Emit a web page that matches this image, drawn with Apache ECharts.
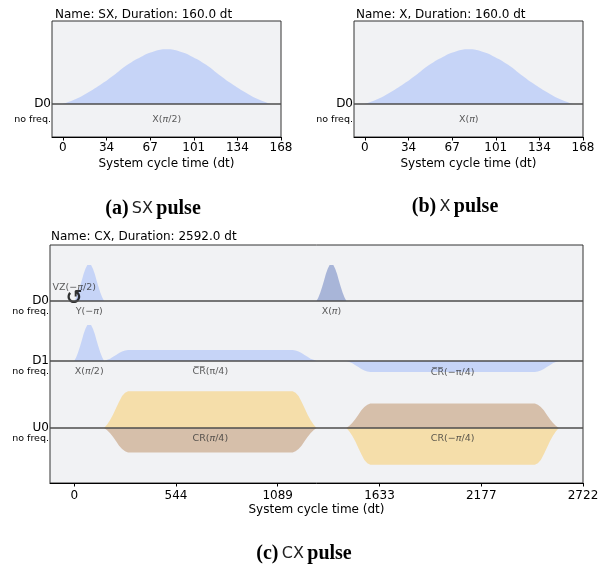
<!DOCTYPE html>
<html>
<head>
<meta charset="utf-8">
<script src="https://cdn.jsdelivr.net/npm/echarts@6.0.0/dist/echarts.min.js"></script>
<style>
html,body{margin:0;padding:0;background:#fff;}
#chart{width:604px;height:565px;}
</style>
</head>
<body>
<div id="chart"></div>
<script>
// ---------- Panel (a): SX pulse ----------
const sxTime = [0,10,20,30,40,50,60,70,80,90,100,110,120,130,140,150,160];
const sxReal = [0,0.09,0.22,0.37,0.54,0.72,0.86,0.96,1,0.96,0.86,0.72,0.54,0.37,0.22,0.09,0];
// ---------- Panel (b): X pulse ----------
const xTime = [0,10,20,30,40,50,60,70,80,90,100,110,120,130,140,150,160];
const xReal = [0,0.09,0.22,0.37,0.54,0.72,0.86,0.96,1,0.96,0.86,0.72,0.54,0.37,0.22,0.09,0];
// tick values / labels for (a) and (b)
const smallTickVals = [0,33.6,67.2,100.8,134.4,168];
const smallTickLabels = ['0','34','67','101','134','168'];

// ---------- Panel (c): CX pulse ----------
const cxD0RealTime = [0,10,20,30,40,50,60,70,80,90,100,110,120,130,140,150,160];
const cxD0Real = [0,0.09,0.22,0.37,0.54,0.72,0.86,0.96,1,0.96,0.86,0.72,0.54,0.37,0.22,0.09,0];
const cxD0ImagTime = [1296,1306,1316,1326,1336,1346,1356,1366,1376,1386,1396,1406,1416,1426,1436,1446,1456];
const cxD0Imag = [0,0.09,0.22,0.37,0.54,0.72,0.86,0.96,1,0.96,0.86,0.72,0.54,0.37,0.22,0.09,0];

const cxD1Time = [0,10,20,30,40,50,60,70,80,90,100,110,120,130,140,150,160,
  176,192,208,224,240,256,272,288,
  1168,1184,1200,1216,1232,1248,1264,1280,1296,
  1456,1472,1488,1504,1520,1536,1552,1568,1584,
  2464,2480,2496,2512,2528,2544,2560,2576,2592];
const cxD1Real = [0,0.09,0.22,0.37,0.54,0.72,0.86,0.96,1,0.96,0.86,0.72,0.54,0.37,0.22,0.09,0,
  0.03,0.06,0.11,0.16,0.21,0.25,0.28,0.29,
  0.29,0.28,0.25,0.21,0.16,0.11,0.06,0.03,0,
  0,-0.03,-0.06,-0.11,-0.16,-0.21,-0.25,-0.28,-0.29,
  -0.29,-0.28,-0.25,-0.21,-0.16,-0.11,-0.06,-0.03,0];

const cxU0Time = [160,176,192,208,224,240,256,272,288,
  1168,1184,1200,1216,1232,1248,1264,1280,1296,
  1456,1472,1488,1504,1520,1536,1552,1568,1584,
  2464,2480,2496,2512,2528,2544,2560,2576,2592];
const cxU0Real = [0,0.09,0.21,0.36,0.53,0.70,0.85,0.94,0.98,
  0.98,0.94,0.85,0.70,0.53,0.36,0.21,0.09,0,
  0,-0.09,-0.21,-0.36,-0.53,-0.70,-0.85,-0.94,-0.98,
  -0.98,-0.94,-0.85,-0.70,-0.53,-0.36,-0.21,-0.09,0];
const cxU0Imag = [0,-0.06,-0.14,-0.24,-0.35,-0.47,-0.56,-0.62,-0.65,
  -0.65,-0.62,-0.56,-0.47,-0.35,-0.24,-0.14,-0.06,0,
  0,0.06,0.14,0.24,0.35,0.47,0.56,0.62,0.65,
  0.65,0.62,0.56,0.47,0.35,0.24,0.14,0.06,0];

const cxTickVals = [0,544.32,1088.64,1632.96,2177.28,2721.6];
const cxTickLabels = ['0','544','1089','1633','2177','2722'];

// ---------- styling ----------
const FONT = 'DejaVu Sans';
const BG = '#f1f2f4';
const D_RE = '#648fff', D_IM = '#002999', U_RE = '#ffb000', U_IM = '#994a00';
const BASE = '#4d4d4d';

const zip = (t, v) => t.map((x, i) => [x, v[i]]);
function nearestLabel(ticks, labels, v) {
  let best = 0;
  for (let i = 1; i < ticks.length; i++) if (Math.abs(ticks[i] - v) < Math.abs(ticks[best] - v)) best = i;
  return labels[best];
}

// axis carrying line + ticks (labels optional)
function xAxisDef(grid, min, max, ticks, labels, margin, gap, withLabels) {
  return {
    type: 'value', gridIndex: grid, min: min, max: max, position: 'bottom',
    axisLine: {show: true, onZero: false, lineStyle: {color: '#000', width: 1}},
    axisTick: {show: true, customValues: ticks, length: 3.5, lineStyle: {color: '#000'}},
    axisLabel: {show: withLabels, customValues: ticks, margin: margin, fontSize: 12, lineHeight: 12, color: '#000', fontFamily: FONT,
      hideOverlap: false, showMinLabel: true, showMaxLabel: true,
      formatter: v => nearestLabel(ticks, labels, v)},
    splitLine: {show: false},
    name: withLabels ? 'System cycle time (dt)' : '', nameLocation: 'middle', nameGap: gap, nameMoveOverlap: false,
    nameTextStyle: {fontSize: 12, lineHeight: 12, color: '#000', fontFamily: FONT}
  };
}
// label-only axis
function xLabelAxisDef(grid, min, max, ticks, labels, margin, gap) {
  const a = xAxisDef(grid, min, max, ticks, labels, margin, gap, true);
  a.axisLine = {show: false, onZero: false};
  a.axisTick = {show: false};
  return a;
}
// one axis for the channel name, one for the "no freq." note
function yAxisDef(grid, min, max, value, text, size) {
  return {
    type: 'value', gridIndex: grid, min: min, max: max, position: 'left', offset: 0,
    axisLine: {show: false}, axisTick: {show: false}, splitLine: {show: false},
    axisLabel: {customValues: [value], margin: 1, color: '#000', fontFamily: FONT, fontSize: size, hideOverlap: false,
      formatter: () => text}
  };
}
function baseSeries(xi, yi) {
  return {type: 'line', xAxisIndex: xi, yAxisIndex: yi, data: [], z: 1, silent: true,
    markLine: {silent: true, symbol: 'none', label: {show: false},
      lineStyle: {color: BASE, width: 1.5, type: 'solid'}, data: [{yAxis: 0}]}};
}
function fillSeries(xi, yi, data, color, smooth) {
  return {type: 'line', xAxisIndex: xi, yAxisIndex: yi, data: data, z: 2, silent: true,
    showSymbol: false, smooth: smooth ? 0.5 : false,
    lineStyle: {width: 0, opacity: 0}, areaStyle: {color: color, opacity: 0.3, origin: 'auto'}};
}
const labelRich = {
  i: {fontStyle: 'italic', fontSize: 9.5, color: '#333', fontFamily: FONT},
  b: {fontSize: 20, fontWeight: 'bold', color: '#000', fontFamily: FONT}
};
function labelSeries(xi, yi, items) {
  return {type: 'scatter', xAxisIndex: xi, yAxisIndex: yi, z: 3, silent: true, symbolSize: 1,
    itemStyle: {color: 'rgba(0,0,0,0)'},
    label: {show: true, position: 'inside', fontSize: 9.5, color: '#333', fontFamily: FONT, rich: labelRich},
    labelLayout: {hideOverlap: false},
    data: items.map(it => ({value: it.v, label: {formatter: it.t}}))};
}

const chart = echarts.init(document.getElementById('chart'), null, {renderer: 'canvas'});
const gridStyle = {show: true, backgroundColor: BG, borderColor: '#333', borderWidth: 1, containLabel: false, outerBoundsMode: 'none'};
const capRich = {p: {fontFamily: 'Liberation Serif', fontWeight: 'bold', fontSize: 20, fill: '#000'},
                 s: {fontFamily: FONT, fontSize: 16, fill: '#222'}};
const yA = -0.603, yB = 1.517;               // panels (a),(b)
const d0 = [-4.840, 1.489], d1 = [-3.245, 3.085], u0 = [-1.463, 4.867]; // panel (c)
chart.setOption({
  animation: false,
  textStyle: {fontFamily: FONT},
  title: [
    {text: 'Name: SX, Duration: 160.0 dt', left: 55, top: 9, padding: 0, textStyle: {fontSize: 12, fontWeight: 'normal', color: '#000', fontFamily: FONT}},
    {text: 'Name: X, Duration: 160.0 dt', left: 356, top: 9, padding: 0, textStyle: {fontSize: 12, fontWeight: 'normal', color: '#000', fontFamily: FONT}},
    {text: 'Name: CX, Duration: 2592.0 dt', left: 51, top: 231, padding: 0, textStyle: {fontSize: 12, fontWeight: 'normal', color: '#000', fontFamily: FONT}}
  ],
  grid: [
    Object.assign({left: 52, top: 21, width: 229, height: 116}, gridStyle),
    Object.assign({left: 354, top: 21, width: 229, height: 116}, gridStyle),
    Object.assign({left: 50, top: 245, width: 533, height: 238}, gridStyle)
  ],
  xAxis: [
    xAxisDef(0, -8.4, 168, smallTickVals, smallTickLabels, 5, 21, false),
    xAxisDef(1, -8.4, 168, smallTickVals, smallTickLabels, 5, 21, true),
    xAxisDef(2, -129.6, 2721.6, cxTickVals, cxTickLabels, 7, 21, true),
    xLabelAxisDef(0, -8.4, 168, smallTickVals, smallTickLabels, 5, 21)
  ],
  yAxis: [
    yAxisDef(0, yA, yB, 0, 'D0', 12),        // 0
    yAxisDef(0, yA, yB, -0.28, 'no freq.', 9.5), // 1
    yAxisDef(1, yA, yB, 0, 'D0', 12),        // 2
    yAxisDef(1, yA, yB, -0.28, 'no freq.', 9.5), // 3
    yAxisDef(2, d0[0], d0[1], 0, 'D0', 12),  // 4
    yAxisDef(2, d0[0], d0[1], -0.285, 'no freq.', 9.5), // 5
    yAxisDef(2, d1[0], d1[1], 0, 'D1', 12),  // 6
    yAxisDef(2, d1[0], d1[1], -0.285, 'no freq.', 9.5), // 7
    yAxisDef(2, u0[0], u0[1], 0, 'U0', 12),  // 8
    yAxisDef(2, u0[0], u0[1], -0.275, 'no freq.', 9.5)  // 9
  ],
  series: [
    baseSeries(0, 0),
    fillSeries(0, 0, zip(sxTime, sxReal), D_RE, true),
    labelSeries(0, 0, [{v: [80, -0.28], t: 'X({i|π}/2)'}]),

    baseSeries(1, 2),
    fillSeries(1, 2, zip(xTime, xReal), D_RE, true),
    labelSeries(1, 2, [{v: [80, -0.28], t: 'X({i|π})'}]),

    baseSeries(2, 4),
    baseSeries(2, 6),
    baseSeries(2, 8),
    fillSeries(2, 4, zip(cxD0RealTime, cxD0Real), D_RE, false),
    fillSeries(2, 4, zip(cxD0ImagTime, cxD0Imag), D_IM, false),
    fillSeries(2, 6, zip(cxD1Time, cxD1Real), D_RE, false),
    fillSeries(2, 8, zip(cxU0Time, cxU0Real), U_RE, false),
    fillSeries(2, 8, zip(cxU0Time, cxU0Imag), U_IM, false),
    labelSeries(2, 4, [
      {v: [0, 0.35], t: 'VZ(−{i|π}/2)'},
      {v: [0, 0.07], t: '{b|↺}'},
      {v: [80, -0.29], t: 'Y(−{i|π})'},
      {v: [1376, -0.27], t: 'X({i|π})'}
    ]),
    labelSeries(2, 6, [
      {v: [80, -0.27], t: 'X({i|π}/2)'},
      {v: [728, -0.29], t: 'C\u0305R\u0305(π/4)'},
      {v: [2024, -0.32], t: 'C\u0305R\u0305(−π/4)'}
    ]),
    labelSeries(2, 8, [
      {v: [728, -0.27], t: 'CR({i|π}/4)'},
      {v: [2024, -0.27], t: 'CR(−{i|π}/4)'}
    ])
  ],
  graphic: [
    {type: 'text', x: 153, y: 209, style: {text: '{p|(a)} {s|SX} {p|pulse}', align: 'center', verticalAlign: 'middle', rich: capRich}},
    {type: 'text', x: 455, y: 207, style: {text: '{p|(b)} {s|X} {p|pulse}', align: 'center', verticalAlign: 'middle', rich: capRich}},
    {type: 'text', x: 304, y: 554, style: {text: '{p|(c)} {s|CX} {p|pulse}', align: 'center', verticalAlign: 'middle', rich: capRich}}
  ]
});
</script>
</body>
</html>
